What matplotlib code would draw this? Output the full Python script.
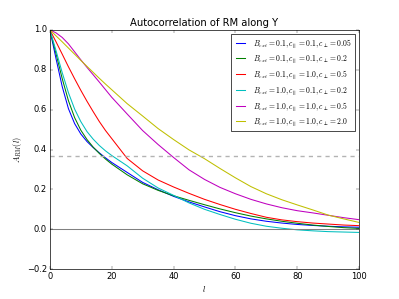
import numpy as np
import matplotlib
matplotlib.use("Agg")
import matplotlib.pyplot as plt

plt.style.use("classic")

# lag values
lags = [0, 2, 4, 6, 8, 10, 12, 14, 16, 18, 20, 25, 30, 35, 40, 45, 50,
        55, 60, 65, 70, 75, 80, 85, 90, 95, 100]

# autocorrelation curves
acf_b01_c01_005 = [1.0, 0.855, 0.715, 0.605, 0.53, 0.478, 0.44, 0.41, 0.383, 0.358, 0.335, 0.285, 0.235, 0.198, 0.165, 0.137, 0.112,
                   0.088, 0.068, 0.052, 0.04, 0.031, 0.024, 0.019, 0.015, 0.012, 0.01]
acf_b01_c01_02 = [1.0, 0.88, 0.755, 0.645, 0.56, 0.497, 0.45, 0.412, 0.38, 0.352, 0.327, 0.273, 0.228, 0.195, 0.168, 0.145, 0.123,
                  0.102, 0.083, 0.066, 0.052, 0.04, 0.03, 0.021, 0.014, 0.008, 0.004]
acf_b01_c10_05 = [1.0, 0.94, 0.878, 0.815, 0.755, 0.697, 0.642, 0.59, 0.54, 0.495, 0.455, 0.355, 0.293, 0.247, 0.212, 0.18, 0.15,
                  0.124, 0.10, 0.079, 0.06, 0.047, 0.038, 0.031, 0.026, 0.021, 0.018]
acf_b10_c01_02 = [1.0, 0.895, 0.785, 0.685, 0.603, 0.54, 0.49, 0.452, 0.42, 0.393, 0.37, 0.318, 0.256, 0.207, 0.17, 0.132, 0.10,
                  0.074, 0.05, 0.03, 0.015, 0.005, -0.003, -0.008, -0.012, -0.014, -0.016]
acf_b10_c10_05 = [1.0, 0.985, 0.962, 0.93, 0.89, 0.85, 0.812, 0.775, 0.738, 0.70, 0.662, 0.578, 0.495, 0.425, 0.36, 0.298, 0.25,
                  0.21, 0.178, 0.15, 0.127, 0.108, 0.093, 0.082, 0.07, 0.058, 0.048]
acf_b10_c10_20 = [1.0, 0.97, 0.94, 0.909, 0.878, 0.847, 0.817, 0.787, 0.757, 0.728, 0.70, 0.63, 0.568, 0.505, 0.45, 0.398, 0.354,
                  0.305, 0.258, 0.214, 0.178, 0.148, 0.122, 0.097, 0.071, 0.052, 0.034]

curves = [acf_b01_c01_005, acf_b01_c01_02, acf_b01_c10_05,
          acf_b10_c01_02, acf_b10_c10_05, acf_b10_c10_20]
labels = [r"$B_{ext}=0.1,c_\parallel=0.1,c_\perp=0.05$",
          r"$B_{ext}=0.1,c_\parallel=0.1,c_\perp=0.2$",
          r"$B_{ext}=0.1,c_\parallel=1.0,c_\perp=0.5$",
          r"$B_{ext}=1.0,c_\parallel=0.1,c_\perp=0.2$",
          r"$B_{ext}=1.0,c_\parallel=1.0,c_\perp=0.5$",
          r"$B_{ext}=1.0,c_\parallel=1.0,c_\perp=2.0$"]
colors = ["b", "g", "r", "c", "m", "y"]

fig = plt.figure(figsize=(7.98, 5.98))
ax = fig.add_subplot(111)
for y, lab, c in zip(curves, labels, colors):
    ax.plot(lags, y, color=c, lw=1.5, label=lab)

ax.axhline(np.exp(-1), color="0.7", ls="--", lw=2)
ax.axhline(0, color="0.5", lw=1.5)

ax.set_xlim(0, 100)
ax.set_ylim(-0.2, 1.0)
ax.set_title("Autocorrelation of RM along Y")
ax.set_xlabel(r"$l$")
ax.set_ylabel(r"$A_{RM}(l)$")
ax.legend(loc="upper right", fontsize=11, handlelength=1.7, labelspacing=0.45)

fig.savefig("out.png", dpi=50)
